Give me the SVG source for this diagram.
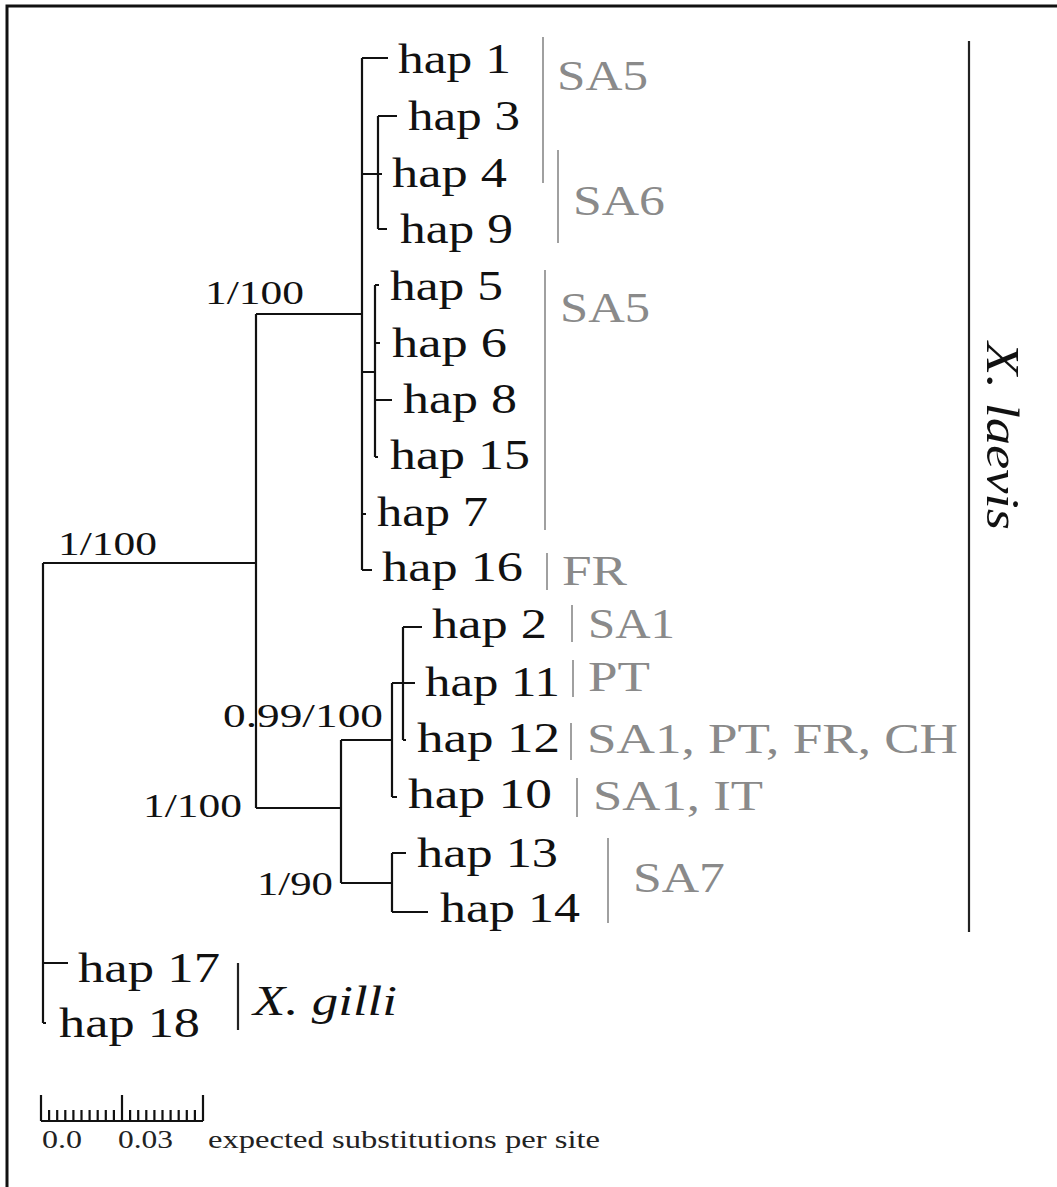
<svg xmlns="http://www.w3.org/2000/svg" width="1057" height="1187" viewBox="0 0 1057 1187">
<style>
text{font-family:'Liberation Serif','Tinos','Times New Roman',Times,serif}
.hap{font-size:42px;fill:#111}
.sup{font-size:33px;fill:#111}
.loc{font-size:42px;fill:#8a8a8a}
.sp{font-style:italic;fill:#111}
.sc{font-size:26px;fill:#222}
.br{fill:none;stroke:#111;stroke-width:2.2}
.gb{fill:none;stroke:#a0a0a0;stroke-width:2}
.kb{fill:none;stroke:#222;stroke-width:2.2}
</style>
<rect x="0" y="0" width="1057" height="1187" fill="#fff"/>
<path d="M7,1187 V6 H1057" fill="none" stroke="#111" stroke-width="3"/>
<g id="connectors" class="br">
<path d="M43,563 V1023 M43,563 H256 M43,963 H68 M43,1023 H46"/>
<path d="M256,314 V808 M256,314 H362 M256,808 H341"/>
<path d="M362,58 V570 M362,58 H388 M362,514 H366 M362,570 H372"/>
<path d="M362,174 H378 M378,116 V229 M378,116 H397 M378,174 H382 M378,229 H387"/>
<path d="M362,372 H375 M375,285 V457 M375,285 H379 M375,343 H380 M375,400 H392 M375,457 H378"/>
<path d="M341,740 V883 M341,740 H392 M341,883 H392"/>
<path d="M392,683 V797 M392,683 H415 M392,797 H397"/>
<path d="M403,627 V740 M403,627 H422 M403,740 H406"/>
<path d="M392,853 V912 M392,853 H406 M392,912 H428"/>
</g>
<g id="leaves">
<g id="hap1"><text class="hap" x="398" y="73" textLength="113" lengthAdjust="spacingAndGlyphs">hap 1</text></g>
<g id="hap3"><text class="hap" x="408" y="130" textLength="112" lengthAdjust="spacingAndGlyphs">hap 3</text></g>
<g id="hap4"><text class="hap" x="392" y="187" textLength="115" lengthAdjust="spacingAndGlyphs">hap 4</text></g>
<g id="hap9"><text class="hap" x="400" y="243" textLength="113" lengthAdjust="spacingAndGlyphs">hap 9</text></g>
<g id="hap5"><text class="hap" x="390" y="300" textLength="113" lengthAdjust="spacingAndGlyphs">hap 5</text></g>
<g id="hap6"><text class="hap" x="392" y="357" textLength="115" lengthAdjust="spacingAndGlyphs">hap 6</text></g>
<g id="hap8"><text class="hap" x="403" y="413" textLength="114" lengthAdjust="spacingAndGlyphs">hap 8</text></g>
<g id="hap15"><text class="hap" x="390" y="469" textLength="140" lengthAdjust="spacingAndGlyphs">hap 15</text></g>
<g id="hap7"><text class="hap" x="377" y="526" textLength="111" lengthAdjust="spacingAndGlyphs">hap 7</text></g>
<g id="hap16"><text class="hap" x="382" y="581" textLength="141" lengthAdjust="spacingAndGlyphs">hap 16</text></g>
<g id="hap2"><text class="hap" x="432" y="638" textLength="115" lengthAdjust="spacingAndGlyphs">hap 2</text></g>
<g id="hap11"><text class="hap" x="425" y="696" textLength="135" lengthAdjust="spacingAndGlyphs">hap 11</text></g>
<g id="hap12"><text class="hap" x="417" y="752" textLength="143" lengthAdjust="spacingAndGlyphs">hap 12</text></g>
<g id="hap10"><text class="hap" x="408" y="808" textLength="144" lengthAdjust="spacingAndGlyphs">hap 10</text></g>
<g id="hap13"><text class="hap" x="417" y="867" textLength="141" lengthAdjust="spacingAndGlyphs">hap 13</text></g>
<g id="hap14"><text class="hap" x="440" y="922" textLength="140" lengthAdjust="spacingAndGlyphs">hap 14</text></g>
<g id="hap17"><text class="hap" x="78" y="982" textLength="142" lengthAdjust="spacingAndGlyphs">hap 17</text></g>
<g id="hap18"><text class="hap" x="59" y="1037" textLength="141" lengthAdjust="spacingAndGlyphs">hap 18</text></g>
</g>
<g id="support">
<text class="sup" x="58" y="555" textLength="99" lengthAdjust="spacingAndGlyphs">1/100</text>
<text class="sup" x="205" y="304" textLength="99" lengthAdjust="spacingAndGlyphs">1/100</text>
<text class="sup" x="223" y="727" textLength="160" lengthAdjust="spacingAndGlyphs">0.99/100</text>
<text class="sup" x="143" y="817" textLength="99" lengthAdjust="spacingAndGlyphs">1/100</text>
<text class="sup" x="257" y="895" textLength="76" lengthAdjust="spacingAndGlyphs">1/90</text>
</g>
<g id="locations">
<path class="gb" d="M543,37 V183 M558,150 V243 M545,270 V530 M547,553 V590 M572,605 V642 M573,660 V697 M571,723 V760 M577,778 V817 M608,838 V923"/>
<text class="loc" x="557" y="90" textLength="91" lengthAdjust="spacingAndGlyphs">SA5</text>
<text class="loc" x="573" y="215" textLength="92" lengthAdjust="spacingAndGlyphs">SA6</text>
<text class="loc" x="560" y="322" textLength="90" lengthAdjust="spacingAndGlyphs">SA5</text>
<text class="loc" x="562" y="585" textLength="65" lengthAdjust="spacingAndGlyphs">FR</text>
<text class="loc" x="588" y="638" textLength="87" lengthAdjust="spacingAndGlyphs">SA1</text>
<text class="loc" x="588" y="691" textLength="62" lengthAdjust="spacingAndGlyphs">PT</text>
<text class="loc" x="587" y="753" textLength="371" lengthAdjust="spacingAndGlyphs">SA1, PT, FR, CH</text>
<text class="loc" x="593" y="810" textLength="170" lengthAdjust="spacingAndGlyphs">SA1, IT</text>
<text class="loc" x="633" y="892" textLength="92" lengthAdjust="spacingAndGlyphs">SA7</text>
</g>
<g id="species">
<path class="kb" d="M969,41 V932 M238,963 V1030"/>
<text class="sp" x="253" y="1015" font-size="42" textLength="144" lengthAdjust="spacingAndGlyphs">X. gilli</text>
<text class="sp" transform="translate(987,342) rotate(90)" x="0" y="0" font-size="47" textLength="188" lengthAdjust="spacingAndGlyphs">X. laevis</text>
</g>
<g id="scale">
<path class="br" stroke-width="2" d="M41,1121 H203 M41,1095 V1121 M122,1095 V1121 M203,1095 V1121 M49.1,1110 V1121 M57.2,1110 V1121 M65.3,1110 V1121 M73.4,1110 V1121 M81.5,1110 V1121 M89.6,1110 V1121 M97.7,1110 V1121 M105.8,1110 V1121 M113.9,1110 V1121 M130.1,1110 V1121 M138.2,1110 V1121 M146.3,1110 V1121 M154.4,1110 V1121 M162.5,1110 V1121 M170.6,1110 V1121 M178.7,1110 V1121 M186.8,1110 V1121 M194.9,1110 V1121"/>
<text class="sc" x="42" y="1148" textLength="40" lengthAdjust="spacingAndGlyphs">0.0</text>
<text class="sc" x="118" y="1148" textLength="55" lengthAdjust="spacingAndGlyphs">0.03</text>
<text class="sc" x="208" y="1148" textLength="392" lengthAdjust="spacingAndGlyphs">expected substitutions per site</text>
</g>
</svg>
